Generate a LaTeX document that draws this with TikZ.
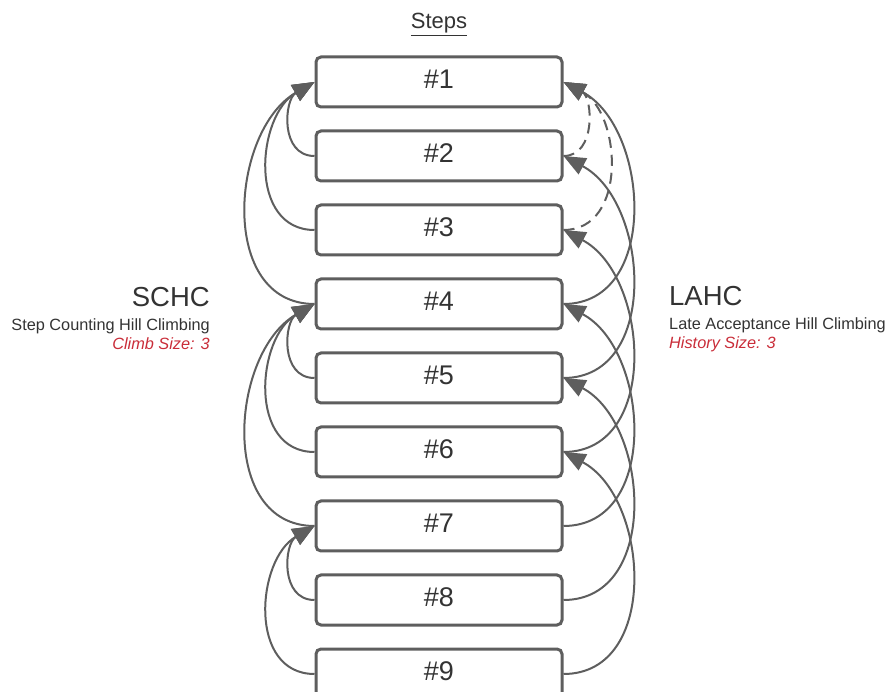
\documentclass[tikz,border=0pt]{standalone}
\usepackage{fontspec}
\setmainfont{Liberation Sans}
\usetikzlibrary{arrows.meta}
\definecolor{lgray}{HTML}{5E5E5E}
\definecolor{tdark}{HTML}{333333}
\definecolor{tred}{HTML}{C92D39}
\begin{document}
\begin{tikzpicture}[x=1pt,y=1pt,
  stepbox/.style={draw=lgray, line width=3pt, rounded corners=5pt, minimum width=246pt,
    minimum height=50pt, inner sep=0pt, text=tdark, font=\fontsize{27}{27}\selectfont,
    text height=13pt, text depth=0pt},
  conn/.style={draw=lgray, line width=2pt, -{Triangle[length=22pt,width=18pt]}},
  dconn/.style={conn, dash pattern=on 11pt off 7pt},
  lbl/.style={inner sep=0pt, text=tdark, font=\fontsize{16.3}{16.3}\selectfont},
  big/.style={inner sep=0pt, text=tdark, font=\fontsize{27.5}{27.5}\selectfont},
  red/.style={inner sep=0pt, text=tred, font=\fontsize{16.3}{16.3}\selectfont\itshape}]
\useasboundingbox (0,0) rectangle (887,-692);
\node[anchor=base, inner sep=0pt, text=tdark, font=\fontsize{22}{22}\selectfont] (title) at (439,-29) {\underline{Steps}};
\foreach \i in {1,...,9} \node[stepbox] (b\i) at (439,{-82-74*(\i-1)}) {\#\i};
% left (SCHC)
\draw[conn] (b2.west) .. controls +(180:35) and +(210:35) .. (b1.west);
\draw[conn] (b3.west) .. controls +(180:67) and +(210:67) .. (b1.west);
\draw[conn] (b4.west) .. controls +(180:97) and +(210:97) .. (b1.west);
\draw[conn] (b5.west) .. controls +(180:35) and +(210:35) .. (b4.west);
\draw[conn] (b6.west) .. controls +(180:67) and +(210:67) .. (b4.west);
\draw[conn] (b7.west) .. controls +(180:97) and +(210:97) .. (b4.west);
\draw[conn] (b8.west) .. controls +(180:35) and +(210:35) .. (b7.west);
\draw[conn] (b9.west) .. controls +(180:67) and +(210:67) .. (b7.west);
% right (LAHC)
\draw[dconn] (b2.east) .. controls +(0:33) and +(-28:33) .. (b1.east);
\draw[dconn] (b3.east) .. controls +(0:65) and +(-28:65) .. (b1.east);
\draw[conn] (b4.east) .. controls +(0:97) and +(-28:97) .. (b1.east);
\draw[conn] (b5.east) .. controls +(0:97) and +(-28:97) .. (b2.east);
\draw[conn] (b6.east) .. controls +(0:97) and +(-28:97) .. (b3.east);
\draw[conn] (b7.east) .. controls +(0:97) and +(-28:97) .. (b4.east);
\draw[conn] (b8.east) .. controls +(0:97) and +(-28:97) .. (b5.east);
\draw[conn] (b9.east) .. controls +(0:97) and +(-28:97) .. (b6.east);
% labels
\node[big, anchor=base east] (schc) at (210,-307) {SCHC};
\node[lbl, anchor=base east] (schcname) at (210,-331) {Step Counting Hill Climbing};
\node[red, anchor=base east] (schcsize) at (210,-350) {Climb Size: 3};
\node[big, anchor=base west] (lahc) at (669,-306) {LAHC};
\node[lbl, anchor=base west] (lahcname) at (669,-330) {Late Acceptance Hill Climbing};
\node[red, anchor=base west] (lahcsize) at (669,-349) {History Size: 3};
\end{tikzpicture}
\end{document}
